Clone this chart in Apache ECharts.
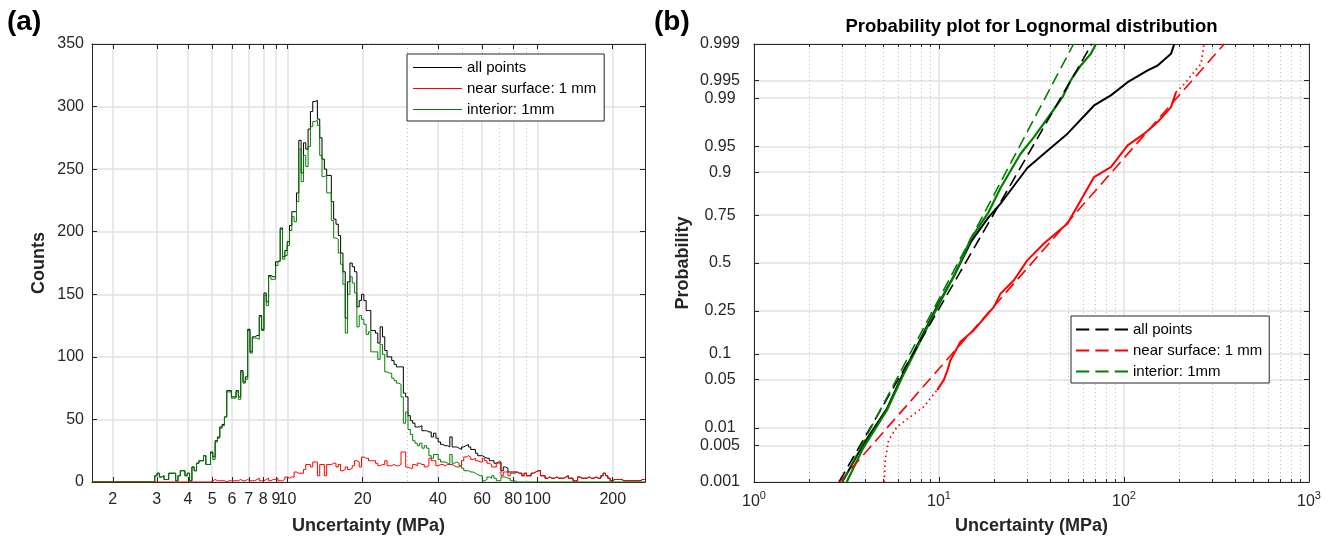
<!DOCTYPE html>
<html>
<head>
<meta charset="utf-8">
<script src="https://cdn.jsdelivr.net/npm/echarts@6/dist/echarts.min.js"></script>
<style>html,body{margin:0;padding:0;background:#fff}#c{width:1337px;height:539px}</style>
</head>
<body>
<div id="c"></div>
<script>
// ---------------- DATA ----------------
// (a) histogram: log-spaced bins between binLo and binHi (MPa)
const binLo = 1.652, binHi = 269.2, nBins = 238;
const countsAll = [0,0,0,0,0,0,0,0,0,0,0,0,0,0,0,0,0,0,0,0,0,0,0,0,0,0,0,
5,7,4,5,2,2,7,7,7,1,5,9,9,5,7,1,12,9,15,17,17,21,14,14,
24,20,33,36,44,46,52,73,73,68,68,73,68,89,80,84,122,104,116,117,117,133,122,151,144,165,164,164,176,177,203,180,185,192,
205,216,216,231,273,247,271,266,282,296,304,305,290,275,258,250,245,245,224,210,206,197,183,168,131,160,175,172,168,140,145,150,145,137,137,121,121,119,111,124,116,105,100,100,97,94,92,92,92,71,68,53,49,47,44,44,45,41,41,40,40,36,39,35,32,
30,29,29,28,36,28,28,27,26,28,29,30,28,26,26,23,21,21,20,19,19,17,17,15,16,16,9,12,11,8,8,8,
8,7,7,5,7,5,5,7,8,9,9,5,5,3,4,3,3,4,3,3,3,4,5,3,3,1,1,4,3,3,3,4,3,3,4,3,3,5,7,5,3,1,2,2,2,2,1,1,1,1,1,1,1,1,2,2];
const countsNear = [0,0,0,0,0,0,0,0,0,0,0,0,0,0,0,0,0,0,0,0,0,0,0,0,0,0,0,0,0,0,0,0,0,0,0,0,0,0,0,0,0,0,0,0,0,0,0,0,0,0,0,
1,2,1,1,1,1,0,1,1,1,1,1,2,1,1,2,1,1,1,2,3,1,1,2,3,1,2,2,3,1,1,2,4,3,
4,4,8,7,7,7,10,14,14,12,16,16,5,14,14,5,14,14,15,15,12,14,9,10,12,10,11,13,17,16,12,20,19,19,17,17,17,15,13,14,14,17,13,13,14,13,13,14,24,24,12,11,11,14,13,15,14,14,12,13,19,17,17,13,14,
14,13,14,14,14,13,12,12,13,17,20,21,20,18,19,17,16,16,19,17,15,14,12,12,15,15,5,8,8,5,7,7,
8,7,7,5,7,5,5,7,8,9,9,5,5,3,4,3,3,4,3,3,3,4,5,3,3,1,1,4,3,3,3,4,3,3,4,3,3,5,7,5,3,1,2,2,2,2,1,1,1,1,1,1,1,1,2,2];
const countsInterior = [0,0,0,0,0,0,0,0,0,0,0,0,0,0,0,0,0,0,0,0,0,0,0,0,0,0,0,
5,7,4,5,2,2,7,7,7,1,5,9,9,5,7,1,12,9,15,17,17,21,14,14,
23,18,32,35,43,45,52,72,72,67,67,72,66,88,79,82,121,103,115,115,114,132,121,149,141,164,162,162,173,176,202,178,181,189,
201,212,208,224,266,240,261,252,268,284,288,289,285,261,244,245,231,231,209,195,194,183,174,158,119,150,164,159,151,124,133,130,126,118,120,104,104,104,98,110,102,88,87,87,83,81,79,78,68,47,56,42,38,33,31,29,31,27,29,27,21,19,22,22,18,
16,16,15,14,22,15,16,15,13,11,9,9,8,8,7,6,5,5,1,2,4,3,5,3,1,1,4,4,3,3,1,1,
0,0,0,0,0,0,0,0,0,0,0,0,0,0,0,0,0,0,0,0,0,0,0,0,0,0,0,0,0,0,0,0,0,0,0,0,0,0,0,0,0,0,0,0,0,0,0,0,0,0,0,0,0,0,0,0];
const histTicks = [2,3,4,5,6,7,8,9,10,20,40,60,80,100,200];
const histMinorTicks = [30,50,70,90];

// (b) probability plot: [uncertainty MPa, cumulative probability]
const cdfAll = [[3.00,0.001],[3.89,0.0052],[5.23,0.020],[6.31,0.0558],[7.83,0.135],[9.72,0.268],[12.06,0.429],[14.96,0.621],[18.55,0.741],[21.5,0.799],[23.0,0.826],[30.0,0.910],[36.9,0.9386],[49.5,0.966],[68.9,0.9869],[84.9,0.991],[104.6,0.99464],[134.3,0.99671],[152,0.99734],[179.5,0.99842],[187,0.999]];
const cdfInterior = [[3.17,0.001],[3.89,0.0045],[5.23,0.0189],[6.31,0.0531],[7.83,0.1295],[9.72,0.2604],[12.06,0.429],[14.96,0.639],[18.55,0.764],[21.5,0.855],[27.6,0.9385],[32.6,0.9622],[40.2,0.9824],[46.5,0.99036],[51.5,0.995],[58.4,0.99734],[66.2,0.99842],[70.5,0.999]];
const cdfNearLow = [[5.06,0.001],[5.12,0.0027],[5.34,0.0062],[5.93,0.0104],[7.0,0.015],[8.26,0.0212],[9.77,0.0364]];
const cdfNearMid = [[9.77,0.0364],[10.6,0.0492],[11.1,0.0645],[11.53,0.0852],[13.06,0.133],[15.42,0.1716],[19.8,0.268],[21.5,0.333],[25.4,0.404],[30.0,0.515],[36.9,0.608],[49.5,0.711],[58.4,0.8117],[68.9,0.8874],[84.9,0.912],[104.6,0.9515],[128.7,0.966],[152,0.9766],[179.5,0.9861],[191,0.99204]];
const cdfNearHigh = [[191,0.99204],[212,0.99428],[261,0.99753],[270,0.99893]];
const fitAll = [[2.88,0.001],[67.0,0.999]];
const fitNear = [[2.9,0.001],[348,0.999]];
const fitInterior = [[3.0,0.001],[53.4,0.999]];
const probTicks = [0.001,0.005,0.01,0.05,0.1,0.25,0.5,0.75,0.9,0.95,0.99,0.995,0.999];
const decades = [1,10,100,1000];
const legendNames = ['all points','near surface: 1 mm','interior: 1mm'];

// ---------------- HELPERS ----------------
function norminv(p){
  const a=[-3.969683028665376e+01,2.209460984245205e+02,-2.759285104469687e+02,1.383577518672690e+02,-3.066479806614716e+01,2.506628277459239e+00];
  const b=[-5.447609879822406e+01,1.615858368580409e+02,-1.556989798598866e+02,6.680131188771972e+01,-1.328068155288572e+01];
  const c=[-7.784894002430293e-03,-3.223964580411365e-01,-2.400758277161838e+00,-2.549732539343734e+00,4.374664141464968e+00,2.938163982698783e+00];
  const d=[7.784695709041462e-03,3.224671290700398e-01,2.445134137142996e+00,3.754408661907416e+00];
  const pl=0.02425, ph=1-pl; let q,r;
  if(p<pl){q=Math.sqrt(-2*Math.log(p));return (((((c[0]*q+c[1])*q+c[2])*q+c[3])*q+c[4])*q+c[5])/((((d[0]*q+d[1])*q+d[2])*q+d[3])*q+1);}
  if(p<=ph){q=p-0.5;r=q*q;return (((((a[0]*r+a[1])*r+a[2])*r+a[3])*r+a[4])*r+a[5])*q/(((((b[0]*r+b[1])*r+b[2])*r+b[3])*r+b[4])*r+1);}
  q=Math.sqrt(-2*Math.log(1-p));return -(((((c[0]*q+c[1])*q+c[2])*q+c[3])*q+c[4])*q+c[5])/((((d[0]*q+d[1])*q+d[2])*q+d[3])*q+1);
}
const edges = Array.from({length:nBins+1},(_,k)=>binLo*Math.pow(binHi/binLo,k/nBins));
function stairs(counts){
  const pts = counts.map((c,k)=>[Math.log10(edges[k]),c]);
  pts.push([Math.log10(edges[nBins]),counts[counts.length-1]]);
  return pts;
}
const toProb = arr => arr.map(([x,p])=>[Math.log10(x),norminv(p)]);

const FONT = '"Liberation Sans", Arial, Helvetica, sans-serif';
const AX = '#262626', GRID = '#e2e2e2', MINOR = '#bdbdbd';
const lxMin = Math.log10(binLo), lxMax = Math.log10(binHi);
const histTickLog = histTicks.map(v=>Math.log10(v));
const histMinorLog = histMinorTicks.map(v=>Math.log10(v));
const zLo = norminv(probTicks[0]), zHi = norminv(probTicks[probTicks.length-1]);
const zTicks = probTicks.map(norminv);
const decLog = decades.map(v=>Math.round(Math.log10(v)));
const decMinor = [];
decades.slice(0,3).forEach(dd=>{for(let m=2;m<=9;m++) decMinor.push(Math.log10(m*dd));});

const solidIcon = 'path://M0,0h50v1h-50z';
const dashIcon = 'path://M0,0h13v2h-13z M19,0h13v2h-13z M38,0h13v2h-13z';

const tickLbl = {color: AX, fontSize: 16, fontFamily: FONT};
const nameStyle = {color: AX, fontSize: 18, fontWeight: 'bold', fontFamily: FONT};

const chart = echarts.init(document.getElementById('c'), null, {renderer:'canvas'});
chart.setOption({
  animation: false,
  backgroundColor: '#fff',
  graphic: [
    {type:'text', x:7, y:8, style:{text:'(a)', font:'bold 28px '+FONT, fill:'#000', verticalAlign:'top'}},
    {type:'text', x:654, y:8, style:{text:'(b)', font:'bold 28px '+FONT, fill:'#000', verticalAlign:'top'}},
    {type:'text', x:1031.5, y:26.5, style:{text:'Probability plot for Lognormal distribution', font:'bold 18.5px '+FONT, fill:'#000', align:'center', verticalAlign:'middle'}}
  ],
  grid: [
    {left:92, top:44, width:553, height:438, outerBoundsMode:'none', containLabel:false},
    {left:754, top:44, width:555, height:438, outerBoundsMode:'none', containLabel:false}
  ],
  xAxis: [
    {gridIndex:0, type:'value', position:'bottom', min:lxMin, max:lxMax,
     axisLine:{show:true, onZero:false, lineStyle:{color:AX, width:1}},
     axisTick:{show:true, inside:true, length:5, customValues:histTickLog, lineStyle:{color:AX}},
     axisLabel:{show:true, customValues:histTickLog, margin:10, ...tickLbl, formatter:v=>String(Math.round(Math.pow(10,v)))},
     splitLine:{show:true, lineStyle:{color:GRID, width:1.5}},
     name:'Uncertainty (MPa)', nameLocation:'middle', nameGap:35, nameTextStyle:nameStyle, nameMoveOverlap:false},
    {gridIndex:0, type:'value', position:'top', min:lxMin, max:lxMax,
     axisLine:{show:true, onZero:false, lineStyle:{color:AX, width:1}},
     axisTick:{show:true, inside:true, length:5, customValues:histTickLog, lineStyle:{color:AX}},
     axisLabel:{show:false}, splitLine:{show:false}},
    {gridIndex:0, type:'value', position:'bottom', min:lxMin, max:lxMax,
     axisLine:{show:false, onZero:false}, axisTick:{show:false, customValues:histMinorLog},
     axisLabel:{show:false, customValues:histMinorLog},
     splitLine:{show:true, lineStyle:{color:MINOR, width:1, type:[1,3]}}},
    {gridIndex:1, type:'value', position:'bottom', min:0, max:3,
     axisLine:{show:true, onZero:false, lineStyle:{color:AX, width:1}},
     axisTick:{show:true, inside:true, length:5, customValues:decLog, lineStyle:{color:AX}},
     axisLabel:{show:true, customValues:decLog, margin:8, color:AX, fontFamily:FONT,
       formatter:v=>'{b|10}{s|'+Math.round(v)+'}',
       rich:{b:{fontSize:16, color:AX, fontFamily:FONT, verticalAlign:'bottom'},
             s:{fontSize:11, color:AX, fontFamily:FONT, verticalAlign:'bottom', padding:[0,0,9,0]}}},
     splitLine:{show:true, lineStyle:{color:GRID, width:1.5}},
     name:'Uncertainty (MPa)', nameLocation:'middle', nameGap:35, nameTextStyle:nameStyle, nameMoveOverlap:false},
    {gridIndex:1, type:'value', position:'bottom', min:0, max:3,
     axisLine:{show:false, onZero:false}, axisTick:{show:true, inside:true, length:3, customValues:decMinor, lineStyle:{color:AX}},
     axisLabel:{show:false, customValues:decMinor},
     splitLine:{show:true, lineStyle:{color:MINOR, width:1, type:[1,3]}}},
    {gridIndex:1, type:'value', position:'top', min:0, max:3,
     axisLine:{show:true, onZero:false, lineStyle:{color:AX, width:1}},
     axisTick:{show:true, inside:true, length:5, customValues:decLog, lineStyle:{color:AX}},
     axisLabel:{show:false}, splitLine:{show:false}},
    {gridIndex:1, type:'value', position:'top', min:0, max:3,
     axisLine:{show:false, onZero:false}, axisTick:{show:true, inside:true, length:3, customValues:decMinor, lineStyle:{color:AX}},
     axisLabel:{show:false}, splitLine:{show:false}}
  ],
  yAxis: [
    {gridIndex:0, type:'value', position:'left', min:0, max:350, interval:50,
     axisLine:{show:true, onZero:false, lineStyle:{color:AX, width:1}},
     axisTick:{show:true, inside:true, length:5, lineStyle:{color:AX}},
     axisLabel:{show:true, margin:8, ...tickLbl, showMinLabel:true, showMaxLabel:true},
     splitLine:{show:true, lineStyle:{color:GRID, width:1.5}},
     name:'Counts', nameLocation:'middle', nameGap:44, nameRotate:90, nameTextStyle:nameStyle, nameMoveOverlap:false},
    {gridIndex:0, type:'value', position:'right', min:0, max:350, interval:50,
     axisLine:{show:true, onZero:false, lineStyle:{color:AX, width:1}},
     axisTick:{show:true, inside:true, length:5, lineStyle:{color:AX}},
     axisLabel:{show:false}, splitLine:{show:false}},
    {gridIndex:1, type:'value', position:'left', min:zLo, max:zHi,
     axisLine:{show:true, onZero:false, lineStyle:{color:AX, width:1}},
     axisTick:{show:true, inside:true, length:5, customValues:zTicks, lineStyle:{color:AX}},
     axisLabel:{show:true, customValues:zTicks, margin:34, align:'center', ...tickLbl,
       formatter:v=>{const p=probTicks.find(q=>Math.abs(norminv(q)-v)<1e-6);return p===undefined?'':String(p);}},
     splitLine:{show:true, lineStyle:{color:GRID, width:1.5}},
     name:'Probability', nameLocation:'middle', nameGap:62, nameRotate:90, nameTextStyle:nameStyle, nameMoveOverlap:false},
    {gridIndex:1, type:'value', position:'right', min:zLo, max:zHi,
     axisLine:{show:true, onZero:false, lineStyle:{color:AX, width:1}},
     axisTick:{show:true, inside:true, length:5, customValues:zTicks, lineStyle:{color:AX}},
     axisLabel:{show:false}, splitLine:{show:false}}
  ],
  legend: [
    {orient:'vertical', left:407, top:54, padding:[6,8,4,6], itemGap:6, itemWidth:49, itemHeight:14,
     borderColor:AX, borderWidth:1, backgroundColor:'#fff', selectedMode:false,
     textStyle:{fontSize:15, color:'#000', fontFamily:FONT},
     data:legendNames.map(n=>({name:n, icon:solidIcon}))},
    {orient:'vertical', left:1071, top:316, padding:[6,7,4,5], itemGap:6, itemWidth:52, itemHeight:14,
     borderColor:AX, borderWidth:1, backgroundColor:'#fff', selectedMode:false,
     textStyle:{fontSize:15, color:'#000', fontFamily:FONT},
     formatter:n=>n.replace('fit:',''),
     data:legendNames.map(n=>({name:'fit:'+n, icon:dashIcon}))}
  ],
  series: [
    {name:'all points', type:'line', xAxisIndex:0, yAxisIndex:0, step:'end', symbol:'none', color:'#000',
     lineStyle:{color:'#000', width:1}, data:stairs(countsAll), z:2},
    {name:'near surface: 1 mm', type:'line', xAxisIndex:0, yAxisIndex:0, step:'end', symbol:'none', color:'#ff0000',
     lineStyle:{color:'#ff0000', width:1}, data:stairs(countsNear), z:3},
    {name:'interior: 1mm', type:'line', xAxisIndex:0, yAxisIndex:0, step:'end', symbol:'none', color:'#008000',
     lineStyle:{color:'#008000', width:1}, data:stairs(countsInterior), z:4},

    {name:'near-data-low', type:'line', xAxisIndex:3, yAxisIndex:2, symbol:'none', color:'#ff0000',
     lineStyle:{color:'#ff0000', width:1.8, type:[1.5,3.5]}, data:toProb(cdfNearLow), z:2},
    {name:'near-data', type:'line', xAxisIndex:3, yAxisIndex:2, symbol:'none', color:'#ff0000',
     lineStyle:{color:'#ff0000', width:2}, data:toProb(cdfNearMid), z:2},
    {name:'near-data-high', type:'line', xAxisIndex:3, yAxisIndex:2, symbol:'none', color:'#ff0000',
     lineStyle:{color:'#ff0000', width:1.8, type:[1.5,3.5]}, data:toProb(cdfNearHigh), z:2},
    {name:'all-data', type:'line', xAxisIndex:3, yAxisIndex:2, symbol:'none', color:'#000',
     lineStyle:{color:'#000', width:2}, data:toProb(cdfAll), z:3},
    {name:'interior-data', type:'line', xAxisIndex:3, yAxisIndex:2, symbol:'none', color:'#008000',
     lineStyle:{color:'#008000', width:2.2}, data:toProb(cdfInterior), z:4},
    {name:'fit:all points', type:'line', xAxisIndex:3, yAxisIndex:2, symbol:'none', color:'#000',
     lineStyle:{color:'#000', width:1.6, type:[12,6]}, data:toProb(fitAll), z:5},
    {name:'fit:near surface: 1 mm', type:'line', xAxisIndex:3, yAxisIndex:2, symbol:'none', color:'#ff0000',
     lineStyle:{color:'#ff0000', width:1.6, type:[12,6]}, data:toProb(fitNear), z:5},
    {name:'fit:interior: 1mm', type:'line', xAxisIndex:3, yAxisIndex:2, symbol:'none', color:'#008000',
     lineStyle:{color:'#008000', width:1.6, type:[12,6]}, data:toProb(fitInterior), z:6}
  ]
});
</script>
</body>
</html>
